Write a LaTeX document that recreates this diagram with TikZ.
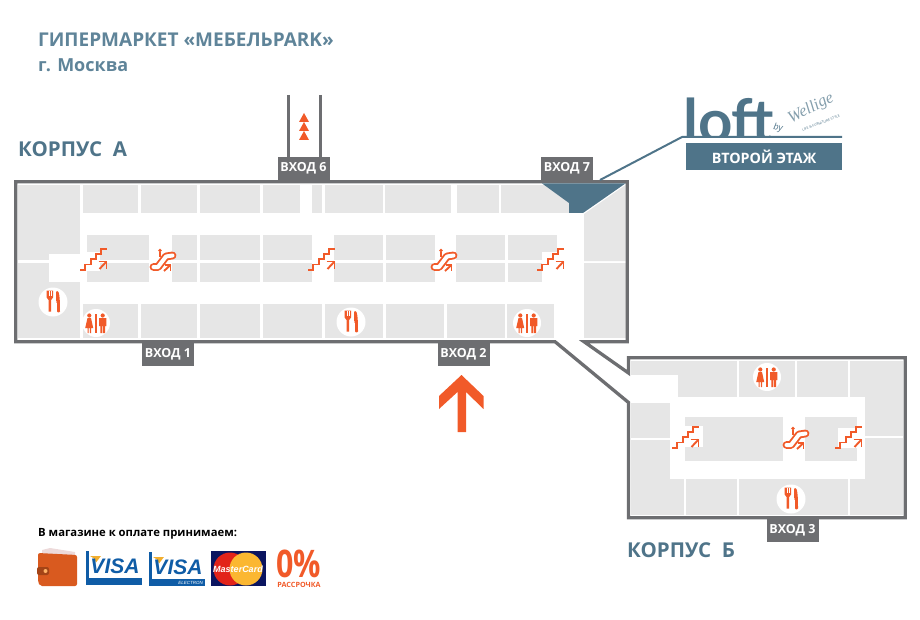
\documentclass[tikz,border=0pt]{standalone}
\usepackage{fontspec}
\setmainfont{Open Sans}
\newfontfamily\logofont{Lato}
\newfontfamily\cardfont{Liberation Sans}
\newfontfamily\makerfont{Liberation Serif}

\definecolor{wallgray}{HTML}{6D6E71}
\definecolor{cellgray}{HTML}{E6E6E6}
\definecolor{loftblue}{HTML}{4F7489}
\definecolor{titleblue}{HTML}{5F8499}
\definecolor{signorange}{HTML}{F15A29}
\definecolor{visablue}{HTML}{0F5CA6}
\definecolor{visagold}{HTML}{F2AE2E}
\definecolor{mcnavy}{HTML}{0B1560}
\definecolor{mcred}{HTML}{E2231A}
\definecolor{mcyellow}{HTML}{FBB731}
\definecolor{walletred}{HTML}{D95A1F}

\tikzset{
  cell/.style={fill=cellgray},
  gap/.style={fill=white},
  wall/.style={draw=wallgray,line width=3.3pt,line join=miter},
  entry/.style={fill=wallgray,text=white,font=\fontsize{12.5}{13}\selectfont\bfseries,
    minimum width=52pt,minimum height=23pt,inner sep=0pt},
  heading/.style={text=titleblue,anchor=base west,inner sep=0pt,font=\fontsize{19}{20}\selectfont\bfseries},
  casename/.style={heading,text=loftblue,font=\fontsize{20.5}{21}\selectfont\bfseries},
  signline/.style={draw=signorange,line width=1.9pt},
  % stairs, origin at top left of a 27x23 box
  stairsign/.pic={
    \draw[signline] (0,22) -- (5,22) -- (5,16.5) -- (11,16.5) -- (11,11) -- (16,11) -- (16,6) -- (21,6) -- (21,1) -- (27,1);
    \draw[signline] (19.5,21) -- (26.5,13.5);
    \draw[signline] (18.5,13.5) -- (26.5,13.5) -- (26.5,21);
  },
  % escalator, same box
  escalatorsign/.pic={
    \draw[signline,double=white,double distance=4pt,line cap=round,line join=round]
      (3.5,18) -- (8,18) -- (16,7.5) -- (22.5,6.5);
    \fill[signorange] (10,1.5) circle (1.8pt);
    \draw[signline] (10,3) -- (10,8);
    \draw[signline] (14,22) -- (20.5,16);
    \draw[signline] (15,16) -- (20.5,16) -- (20.5,21.5);
  },
  % white disc with woman, bar and man
  wcsign/.pic={
    \fill[white] (0,0) circle (14pt);
    \fill[signorange] (-0.7,-9.5) rectangle (0.7,9.5);
    \fill[signorange] (-6.7,-7.5) circle (2.1pt);
    \fill[signorange] (-8.5,-5) -- (-5,-5) -- (-2.8,5) -- (-5,5) -- (-5,10) -- (-6.2,10) -- (-6.2,5) -- (-7.3,5) -- (-7.3,10) -- (-8.5,10) -- (-8.5,5) -- (-10.8,5) -- cycle;
    \fill[signorange] (6.7,-7.5) circle (2.1pt);
    \fill[signorange] (3,-5) -- (10.4,-5) -- (10.4,3) -- (9,3) -- (9,10) -- (7.1,10) -- (7.1,3) -- (6.3,3) -- (6.3,10) -- (4.4,10) -- (4.4,3) -- (3,3) -- cycle;
  },
  % white disc with fork and knife
  foodsign/.pic={
    \fill[white] (0,0) circle (14.5pt);
    \fill[signorange] (-6.3,-11.5) -- (0,-11.5) -- (0,-4.5) -- (-1.8,-2) -- (-1.8,9.5) -- (-4.5,9.5) -- (-4.5,-2) -- (-6.3,-4.5) -- cycle;
    \draw[white,line width=0.6pt] (-4.2,-11.5) -- (-4.2,-6) (-2.1,-11.5) -- (-2.1,-6);
    \fill[signorange,rounded corners=1pt] (3,-11) -- (5,-11) .. controls (6.5,-8) and (7,-2) .. (7,10.3) -- (4,10.3) -- (4,0) -- (3,0) -- cycle;
  },
  % visa card on a 56x34 box
  visacard/.pic={
    \fill[visablue] (0,0) rectangle (2.7,34);
    \fill[visablue] (0,27) rectangle (56,34);
    \fill[visagold] (4,5) -- (15,5) -- (10,11.5) .. controls (9,8) and (7,6) .. (4,5) -- cycle;
    \node[text=visablue,font=\fontsize{21}{21}\selectfont\cardfont\bfseries\itshape,inner sep=0pt] (#1) at (29,15) {VISA};
  },
}

\begin{document}
\begin{tikzpicture}[x=1pt,y=-1pt]
\useasboundingbox (0,0) rectangle (920,620);
% Titles
\node[heading] (mallname) at (38,46.5) {ГИПЕРМАРКЕТ «МЕБЕЛЬPARK»};
\node[heading,font=\fontsize{18}{20}\selectfont\bfseries] (cityname) at (38,71.5) {г. Москва};
\node[casename] (caseA) at (18,157) {КОРПУС\ \ А};
\node[casename] (caseB) at (627,557) {КОРПУС\ \ Б};
% Shops of block A
\fill[cell] (18,185) rectangle (80,260);
\fill[cell] (18,263) rectangle (80,338);
\foreach \xa/\xb in {83/138,141/197,199.5/260,263/300,312/322,325/383,385/451,457/499,501/569}
  \fill[cell] (\xa,185) rectangle (\xb,213);
\foreach \xa/\xb in {87/149,172/197,199.5/260,263/312,334/383,386/435,456/505,508/557}
  \fill[cell] (\xa,235) rectangle (\xb,260);
\foreach \xa/\xb in {87/149,172/197,199.5/260,263/312,334/383,386/435,456/505,508/542}
  \fill[cell] (\xa,263) rectangle (\xb,282);
\foreach \xa/\xb in {83/138,141/197,199.5/260,263/322,325/383,386/444,447/505,507/554}
  \fill[cell] (\xa,304) rectangle (\xb,338);
\fill[cell] (584,214) -- (625.5,185) -- (625.5,261) -- (584,261) -- cycle;
\fill[cell] (584,263) rectangle (625.5,338);
% Free room round the signs of block A
\fill[gap] (49,254) rectangle (83,282);
\fill[gap] (80,252) rectangle (100,271);
\fill[gap] (542,252) rectangle (557,261);
% Shops of block B, the corridors cut out of them
\fill[cell] (631,361) rectangle (903,515);
\fill[gap] (625,375) rectangle (678,403);
\fill[gap] (670,397) rectangle (865,479);
\fill[cell] (685,417) rectangle (783,461);
\fill[cell] (805,417) rectangle (857,461);
\fill[gap] (685,426) rectangle (703,447);
\fill[gap] (838,428) rectangle (865,448);
\foreach \xa in {738,796,849}
  \fill[gap] (\xa-0.7,361) rectangle (\xa+0.7,397);
\foreach \xa in {685,738,849}
  \fill[gap] (\xa-0.7,479) rectangle (\xa+0.7,515);
\fill[gap] (865,436.3) rectangle (903,437.7);
\fill[gap] (631,438.3) rectangle (670,439.7);
% Outer wall of both blocks
\draw[wall] (628.5,402.5) -- (555,341.7) -- (15.7,341.7) -- (15.7,181.7) -- (627.3,181.7) -- (627.3,341.7)
  -- (584,341.7) -- (628.5,373) -- (628.5,357.7) -- (905.2,357.7) -- (905.2,517.7) -- (628.5,517.7) -- cycle;
% Second floor stair
\fill[loftblue] (542,183.4) -- (625.5,183.4) -- (583,213) -- (569,213) -- (569,203) -- cycle;
% Road to entrance 6
\draw[wallgray,line width=3pt] (288,95) -- (288,157);
\draw[wallgray,line width=3pt] (320,95) -- (320,157);
\foreach \ya in {113,122,131}
  \fill[signorange] (304,\ya) -- (309,\ya+9) -- (299,\ya+9) -- cycle;
% Entrances
\node[entry] (entry1) at (168,354.5) {ВХОД 1};
\node[entry] (entry2) at (463.5,354.5) {ВХОД 2};
\node[entry] (entry3) at (792.5,530.5) {ВХОД 3};
\node[entry] (entry6) at (303.5,168.5) {ВХОД 6};
\node[entry] (entry7) at (567,168.5) {ВХОД 7};
% Big arrow to entrance 2
\fill[signorange] (461.5,375) -- (483.5,396) -- (483.5,409) -- (466,392) -- (466,432) -- (457.5,432) -- (457.5,392) -- (439,409) -- (439,396) -- cycle;
% Signs of block A
\pic at (80,248) {stairsign};
\pic at (308,248) {stairsign};
\pic at (537,248) {stairsign};
\pic at (150,249) {escalatorsign};
\pic at (431,249) {escalatorsign};
\pic at (96,323) {wcsign};
\pic at (527,323) {wcsign};
\pic at (53,302) {foodsign};
\pic at (351,322) {foodsign};
% Signs of block B
\pic at (672,426) {stairsign};
\pic at (835,426) {stairsign};
\pic at (783,427) {escalatorsign};
\pic at (767,377) {wcsign};
\pic at (791,499) {foodsign};
% Loft logo, letters cut by the bar
\begin{scope}
\clip (680,90) rectangle (782,135.5);
\node[text=loftblue,anchor=base west,inner sep=0pt,font=\fontsize{60}{60}\selectfont\logofont\bfseries] (loftword) at (683,143) {loft};
\end{scope}
\node[text=loftblue,font=\fontsize{9}{9}\selectfont\itshape,inner sep=0pt,rotate=-10] (loftby) at (778,128) {by};
\node[text=loftblue!70,font=\fontsize{16.5}{17}\selectfont\makerfont\itshape,inner sep=0pt,rotate=27] (loftmaker) at (811,108.5) {Wellige};
\node[text=loftblue,font=\fontsize{3.5}{4}\selectfont,inner sep=0pt,rotate=22] (loftstyle) at (821,123) {LIFE \& FURNITURE STYLE};
\coordinate (loftbarL) at (682,137);
\coordinate (loftbarR) at (842,137);
\coordinate (loftfoot) at (600,180);
\draw[loftblue,line width=2pt] (loftfoot) -- (loftbarL) -- (loftbarR);
\node[fill=loftblue,text=white,font=\fontsize{14.3}{15}\selectfont\bfseries,minimum width=156pt,minimum height=27pt,inner sep=0pt] (floorsign) at (764,156.5) {ВТОРОЙ ЭТАЖ};
% Payment
\node[anchor=base west,inner sep=0pt,font=\fontsize{11.3}{12}\selectfont\bfseries] (paytext) at (38,536) {В магазине к оплате принимаем:};
% Wallet
\fill[cellgray!70!pink] (42,550) -- (50,548) -- (75,552) -- (75,556) -- (42,556) -- cycle;
\fill[walletred,rounded corners=2pt] (38,553) -- (77,555) -- (77,586) -- (40,586) -- (38,582) -- cycle;
\fill[walletred!75!black,rounded corners=2pt] (37,567) rectangle (49,575);
\fill[orange!60] (45.5,571) circle (2pt);
% Cards
\pic at (86,551) {visacard=visaword};
\pic at (149,552) {visacard=visaelword};
\node[text=white,anchor=east,font=\fontsize{4.5}{5}\selectfont\cardfont\itshape,inner sep=0pt] (electronword) at (203,582.5) {ELECTRON};
\fill[mcnavy] (211,551) rectangle (266,586);
\fill[mcred] (230,569) circle (16.5pt);
\fill[mcyellow] (246,569) circle (16.5pt);
\node[text=white,font=\fontsize{9}{9}\selectfont\cardfont\bfseries\itshape,inner sep=0pt] (mcword) at (238,569) {MasterCard};
% Zero percent
\node[text=signorange,xscale=0.8,anchor=base,text height=27pt,text depth=0pt,font=\fontsize{38}{38}\selectfont\bfseries,inner sep=0pt] (zeroword) at (298.5,577) {0\%};
\node[text=signorange,anchor=base,text height=5pt,text depth=0pt,font=\fontsize{7.2}{8}\selectfont\bfseries,inner sep=0pt] (creditword) at (299,587) {РАССРОЧКА};
\end{tikzpicture}
\end{document}
